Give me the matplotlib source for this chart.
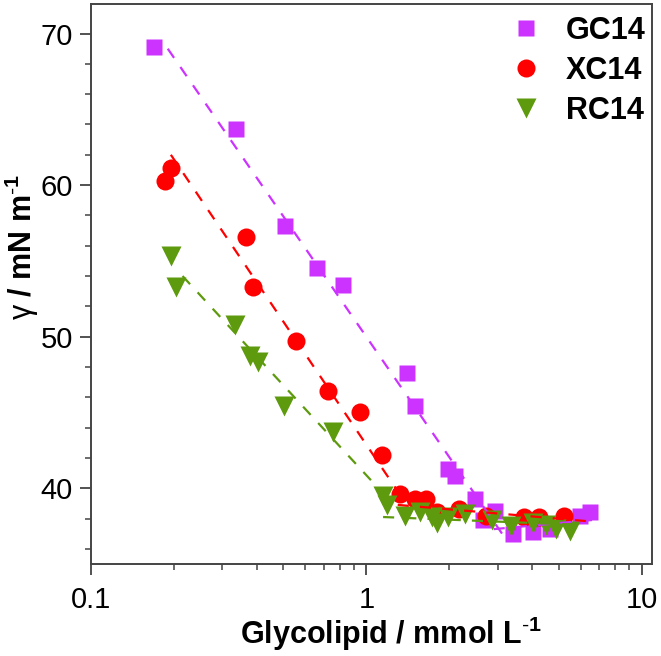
import matplotlib
matplotlib.use("Agg")
import matplotlib.pyplot as plt
from matplotlib.ticker import LogLocator, FixedLocator, NullFormatter, FixedFormatter, MultipleLocator

plt.rcParams['font.family'] = ['Liberation Sans', 'DejaVu Sans']
plt.rcParams['mathtext.fontset'] = 'custom'
plt.rcParams['mathtext.rm'] = 'Liberation Sans'
plt.rcParams['mathtext.bf'] = 'Liberation Sans:bold'
plt.rcParams['mathtext.default'] = 'bf'

# ---- data ----
gc_x = [0.169, 0.336, 0.507, 0.661, 0.822, 1.40, 1.50, 1.98, 2.10, 2.48, 2.65, 2.93, 3.41, 4.03, 4.64, 5.96, 6.48]
gc_y = [69.1, 63.7, 57.3, 54.5, 53.4, 47.6, 45.4, 41.3, 40.8, 39.3, 37.9, 38.5, 37.0, 37.1, 37.3, 38.2, 38.4]

xc_x = [0.186, 0.195, 0.367, 0.386, 0.553, 0.727, 0.952, 1.14, 1.32, 1.50, 1.65, 1.80, 2.17, 2.73, 3.74, 4.23, 5.21]
xc_y = [60.3, 61.1, 56.6, 53.3, 49.7, 46.4, 45.0, 42.2, 39.6, 39.3, 39.3, 38.4, 38.6, 38.2, 38.1, 38.1, 38.2]

rc_x = [0.195, 0.203, 0.333, 0.378, 0.405, 0.502, 0.759, 1.145, 1.19, 1.38, 1.565, 1.725, 1.80, 1.98, 2.28, 2.85, 3.36, 4.03, 4.51, 4.90, 5.48]
rc_y = [55.3, 53.3, 50.8, 48.7, 48.3, 45.4, 43.7, 39.5, 38.9, 38.2, 38.4, 38.1, 37.7, 38.1, 38.3, 37.9, 37.5, 37.7, 37.6, 37.3, 37.2]

# fitted dashed lines (segment end points)
gc_fit1_x = [0.19, 3.25]
gc_fit1_y = [69.0, 36.5]
gc_fit2_x = [2.9, 6.6]
gc_fit2_y = [37.3, 37.9]

xc_fit1_x = [0.195, 1.38]
xc_fit1_y = [62.0, 39.1]
xc_fit2_x = [1.3, 6.6]
xc_fit2_y = [38.9, 37.8]

rc_fit1_x = [0.215, 1.2]
rc_fit1_y = [54.0, 39.3]
rc_fit2_x = [1.15, 5.6]
rc_fit2_y = [38.1, 37.6]

labels = ['GC14', 'XC14', 'RC14']
colors = ['#CC33FF', '#FF0000', '#5E9A0E']

xticks = [0.1, 1, 10]
xticklabels = ['0.1', '1', '10']
yticks = [40, 50, 60, 70]

fig = plt.figure(figsize=(6.61, 6.56), dpi=100)
ax = fig.add_axes([91/661, 1-564/656, (652-91)/661, (564-4)/656])

ax.plot(gc_x, gc_y, 's', ms=11, color=colors[0], mec='none', label=labels[0], zorder=2)
ax.plot(xc_x, xc_y, 'o', ms=13, color=colors[1], mec='none', label=labels[1], zorder=2)
ax.plot(rc_x, rc_y, 'v', ms=14, color=colors[2], mec='none', label=labels[2], zorder=2)

ls = (0, (5, 5))
for fx, fy, c in [(gc_fit1_x, gc_fit1_y, colors[0]), (gc_fit2_x, gc_fit2_y, colors[0]),
                  (xc_fit1_x, xc_fit1_y, colors[1]), (xc_fit2_x, xc_fit2_y, colors[1]),
                  (rc_fit1_x, rc_fit1_y, colors[2]), (rc_fit2_x, rc_fit2_y, colors[2])]:
    ax.plot(fx, fy, linestyle=ls, color=c, lw=1.6, zorder=3)

ax.set_xscale('log')
ax.set_xlim(0.1, 10.9)
ax.set_ylim(35, 71.95)

ax.xaxis.set_major_locator(FixedLocator(xticks))
ax.xaxis.set_major_formatter(FixedFormatter(xticklabels))
ax.xaxis.set_minor_locator(LogLocator(base=10, subs=range(2, 10), numticks=20))
ax.xaxis.set_minor_formatter(NullFormatter())
ax.yaxis.set_major_locator(FixedLocator(yticks))
ax.yaxis.set_minor_locator(MultipleLocator(2))

spine_c = '#444444'
for s in ax.spines.values():
    s.set_color(spine_c)
    s.set_linewidth(1.4)

ax.tick_params(which='major', direction='out', length=8, width=1.3, colors=spine_c,
               labelcolor='black', labelsize=21)
ax.tick_params(which='minor', direction='out', length=4, width=1.1, colors=spine_c)
ax.tick_params(axis='x', which='major', pad=8)
ax.tick_params(axis='y', which='major', pad=5)

ax.set_xlabel(r'Glycolipid / mmol L$^{\text{-}1}$', fontsize=22, fontweight='bold')
ax.xaxis.set_label_coords(0.535, -0.09)
ax.set_ylabel(r'$\mathrm{\gamma}$ / mN m$^{\text{-}1}$', fontsize=22, fontweight='bold')
ax.yaxis.set_label_coords(-0.09, 0.566)

leg = ax.legend(loc='upper right', bbox_to_anchor=(1.0, 0.99), frameon=False,
                prop={'weight': 'bold', 'size': 22}, handletextpad=0.65,
                labelspacing=0.33, borderaxespad=0.0, borderpad=0.2, handlelength=1.3)

fig.savefig('out.png', dpi=100)
